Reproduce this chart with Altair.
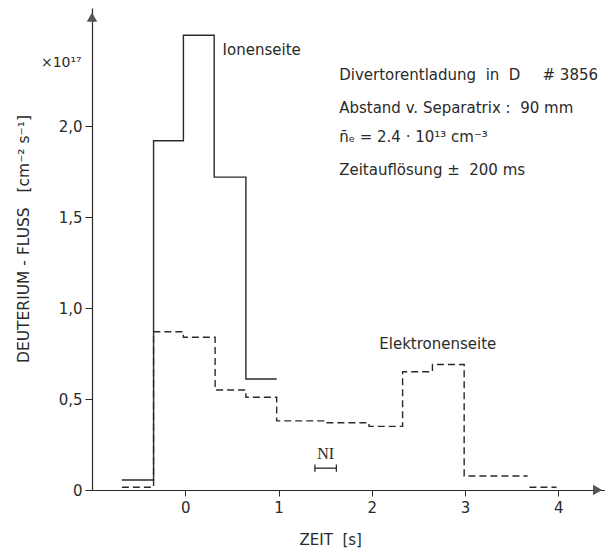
import altair as alt
import pandas as pd

# Ionenseite (solid step line)
ion_t = [-0.68, -0.34, -0.02, 0.31, 0.65, 0.98]
ion_v = [0.055, 1.92, 2.50, 1.72, 0.61, 0.61]

# Elektronenseite (dashed step line)
el_t = [-0.68, -0.34, -0.02, 0.32, 0.65, 0.98, 1.50, 1.97, 2.33, 2.65, 2.99, 3.67]
el_v = [0.015, 0.87, 0.84, 0.55, 0.51, 0.38, 0.37, 0.35, 0.65, 0.69, 0.077, 0.077]

# tail of the dashed curve
tail_t = [3.69, 3.98]
tail_v = [0.015, 0.015]

# NI interval
ni_t = [1.39, 1.62]
ni_v = 0.12

x_ticks = [0, 1, 2, 3, 4]
y_ticks = [0, 0.5, 1.0, 1.5, 2.0]

NB = "\u00a0"
info_lines = [
    f"Divertorentladung{NB}{NB}in{NB}{NB}D",
    f"Abstand v. Separatrix :{NB}{NB}90 mm",
    "n\u0304\u2091 = 2.4 \u00b7 10\u00b9\u00b3 cm\u207b\u00b3",
    f"Zeitaufl\u00f6sung \u00b1{NB}{NB}200 ms",
]
info_y = [2.28, 2.10, 1.94, 1.76]

FONT = "DejaVu Sans"
INK = "#2a2a2a"

xs = alt.Scale(domain=[-1, 4.5], nice=False, zero=False)
ys = alt.Scale(domain=[0, 2.65], nice=False)

ion_df = pd.DataFrame({"t": ion_t, "v": ion_v})
el_df = pd.DataFrame({"t": el_t, "v": el_v})
tail_df = pd.DataFrame({"t": tail_t, "v": tail_v})

x_axis = alt.Axis(
    values=x_ticks, title=None, grid=False, domainColor=INK, tickColor=INK,
    labelColor=INK, labelFont=FONT, labelFontSize=15, labelPadding=4, tickSize=6,
    labelExpr="format(datum.value, 'd')", domainWidth=1.2,
)
y_axis = alt.Axis(
    values=y_ticks, title=None, grid=False,
    domainColor=INK, tickColor=INK, labelColor=INK, labelFont=FONT, labelFontSize=15,
    labelExpr="datum.value == 0 ? '0' : replace(format(datum.value, '.1f'), '.', ',')",
    tickSize=7, labelPadding=3, domainWidth=1.2,
)

ion = alt.Chart(ion_df).mark_line(interpolate="step-after", color=INK, strokeWidth=1.4).encode(
    x=alt.X("t:Q", scale=xs, axis=x_axis),
    y=alt.Y("v:Q", scale=ys, axis=y_axis),
)
el = alt.Chart(el_df).mark_line(interpolate="step-after", color=INK, strokeWidth=1.4,
                                strokeDash=[7, 4]).encode(
    x=alt.X("t:Q", scale=xs), y=alt.Y("v:Q", scale=ys))
tail = alt.Chart(tail_df).mark_line(color=INK, strokeWidth=1.4, strokeDash=[7, 4]).encode(
    x=alt.X("t:Q", scale=xs), y=alt.Y("v:Q", scale=ys))

ni_df = pd.DataFrame({"t": [ni_t[0]], "t2": [ni_t[1]], "v": [ni_v]})
ni_h = alt.Chart(ni_df).mark_rule(color=INK, strokeWidth=1.3).encode(
    x=alt.X("t:Q", scale=xs), x2="t2:Q", y=alt.Y("v:Q", scale=ys))
ni_ends_df = pd.DataFrame({"t": ni_t, "v1": [ni_v - 0.02] * 2, "v2": [ni_v + 0.02] * 2})
ni_e = alt.Chart(ni_ends_df).mark_rule(color=INK, strokeWidth=1.3).encode(
    x=alt.X("t:Q", scale=xs), y=alt.Y("v1:Q", scale=ys), y2="v2:Q")
ni_txt = alt.Chart(pd.DataFrame({"t": [1.505], "v": [0.20], "s": ["NI"]})).mark_text(
    font="Liberation Serif", fontSize=16, color=INK, align="center", baseline="middle").encode(
    x=alt.X("t:Q", scale=xs), y=alt.Y("v:Q", scale=ys), text="s:N")

labels_df = pd.DataFrame({
    "t": [0.40, 2.08, 3.83],
    "v": [2.42, 0.80, 2.28],
    "s": ["Ionenseite", "Elektronenseite", "# 3856"],
})
labels = alt.Chart(labels_df).mark_text(font=FONT, fontSize=15, color=INK, align="left",
                                        baseline="middle").encode(
    x=alt.X("t:Q", scale=xs), y=alt.Y("v:Q", scale=ys), text="s:N")

info_df = pd.DataFrame({"t": [1.65] * len(info_lines), "v": info_y, "s": info_lines})
info = alt.Chart(info_df).mark_text(font=FONT, fontSize=15, color=INK, align="left",
                                    baseline="middle").encode(
    x=alt.X("t:Q", scale=xs), y=alt.Y("v:Q", scale=ys), text="s:N")

factor = alt.Chart(pd.DataFrame({"t": [-1.11], "v": [2.35], "s": ["\u00d710\u00b9\u2077"]})).mark_text(
    font=FONT, fontSize=14, color=INK, align="right", baseline="middle").encode(
    x=alt.X("t:Q", scale=xs), y=alt.Y("v:Q", scale=ys), text="s:N")

titles_df = pd.DataFrame({
    "t": [1.56, -1.73],
    "v": [-0.275, 1.38],
    "s": [f"ZEIT{NB}{NB}[s]",
          f"DEUTERIUM{NB}-{NB}FLUSS{NB}{NB}{NB}[cm\u207b\u00b2{NB}s\u207b\u00b9]"],
})
x_title = alt.Chart(titles_df.iloc[[0]]).mark_text(
    font=FONT, fontSize=15, color=INK, align="center", baseline="middle").encode(
    x=alt.X("t:Q", scale=xs), y=alt.Y("v:Q", scale=ys), text="s:N")
y_title = alt.Chart(titles_df.iloc[[1]]).mark_text(
    font=FONT, fontSize=15.5, color=INK, align="center", baseline="middle", angle=270).encode(
    x=alt.X("t:Q", scale=xs), y=alt.Y("v:Q", scale=ys), text="s:N")

arrows_df = pd.DataFrame({"t": [-1.0, 4.42], "v": [2.60, 0.0],
                          "shape": ["triangle-up", "triangle-right"]})
arrows = alt.Chart(arrows_df).mark_point(filled=True, color="#555555", size=110, opacity=1).encode(
    x=alt.X("t:Q", scale=xs), y=alt.Y("v:Q", scale=ys),
    shape=alt.Shape("shape:N", scale=None))

chart = alt.layer(ion, el, tail, ni_h, ni_e, ni_txt, labels, info, factor, x_title, y_title,
                  arrows).properties(
    width=513, height=482, autosize="none",
    padding={"left": 92, "top": 8, "right": 0, "bottom": 61},
    background="white",
).configure_view(strokeWidth=0)

chart.save("out.html", embed_options={"renderer": "svg", "actions": False})
